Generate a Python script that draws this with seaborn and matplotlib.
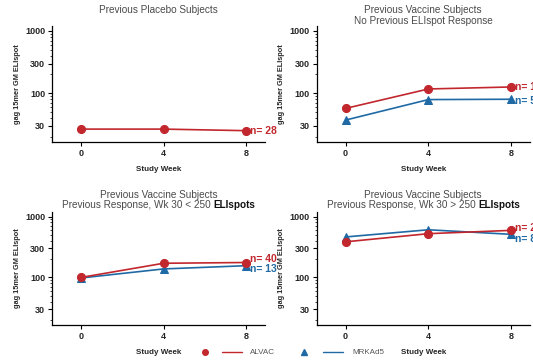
import numpy as np
import pandas as pd
import matplotlib
matplotlib.use("Agg")
import matplotlib.pyplot as plt
import seaborn as sns
from matplotlib.lines import Line2D
from matplotlib.ticker import LogLocator, FixedLocator, NullFormatter

# --- Data ---
weeks = [0, 4, 8]
placebo_alvac = [26.5, 26.5, 25.0]
novacc_alvac = [57, 117, 126]
novacc_mrk = [37, 79, 80]
low_alvac = [100, 171, 176]
low_mrk = [98, 138, 156]
high_alvac = [385, 524, 594]
high_mrk = [463, 607, 511]

# (title line 1, title line 2, bold tail of line 2, series)
panels = [
    ("Previous Placebo Subjects", None, None,
     {"ALVAC": (placebo_alvac, "n= 28")}),
    ("Previous Vaccine Subjects", "No Previous ELIspot Response", None,
     {"ALVAC": (novacc_alvac, "n= 15"), "MRKAd5": (novacc_mrk, "n= 5")}),
    ("Previous Vaccine Subjects", "Previous Response, Wk 30 < 250 ", "ELIspots",
     {"ALVAC": (low_alvac, "n= 40"), "MRKAd5": (low_mrk, "n= 13")}),
    ("Previous Vaccine Subjects", "Previous Response, Wk 30 > 250 ", "ELIspots",
     {"ALVAC": (high_alvac, "n= 21"), "MRKAd5": (high_mrk, "n= 8")}),
]
# vertical nudges (points) so the n= labels don't collide
nudges = [
    {"ALVAC": 0},
    {"ALVAC": 0, "MRKAd5": -1.5},
    {"ALVAC": 2.2, "MRKAd5": -2.2},
    {"ALVAC": 2.0, "MRKAd5": -3.5},
]

colors = {"ALVAC": "#C1272D", "MRKAd5": "#1F6AA5"}
markers = {"ALVAC": "o", "MRKAd5": "^"}
title_color = "#4a4a4a"
W, H = 533, 362

sns.set_style("white")
plt.rcParams["font.family"] = ["Liberation Sans", "DejaVu Sans"]

fig = plt.figure(figsize=(5.33, 3.62), dpi=100)

# axes boxes in figure fractions [left, bottom, width, height]
boxes = [
    [0.0976, 0.608, 0.399, 0.320],
    [0.594, 0.608, 0.400, 0.320],
    [0.0976, 0.102, 0.399, 0.313],
    [0.594, 0.102, 0.400, 0.313],
]
# title line centres in pixels from top
title_y = [(10, None), (10, 20.5), (195, 205.5), (195, 205.5)]


def centred_title(xc, ypix, normal, bold=None):
    y = 1 - ypix / H
    t = fig.text(xc, y, normal, fontsize=7.2, color=title_color,
                 ha="left", va="center")
    parts = [t]
    if bold:
        b = fig.text(0, y, bold, fontsize=7.2, fontweight="bold",
                     color="#111111", ha="left", va="center")
        parts.append(b)
    fig.canvas.draw()
    r = fig.canvas.get_renderer()
    widths = [p.get_window_extent(r).width / W for p in parts]
    x0 = xc - sum(widths) / 2
    for p, w in zip(parts, widths):
        p.set_x(x0)
        x0 += w


for (t1, t2, tb, series), box, (y1, y2), nud in zip(panels, boxes, title_y, nudges):
    ax = fig.add_axes(box)
    rows = []
    for grp, (vals, _) in series.items():
        for w, v in zip(weeks, vals):
            rows.append({"week": w, "value": v, "group": grp})
    df = pd.DataFrame(rows)
    # MRKAd5 drawn first so ALVAC sits on top where they overlap
    order = [g for g in ["MRKAd5", "ALVAC"] if g in series]
    for grp in order:
        sub_df = df[df["group"] == grp]
        sns.lineplot(data=sub_df, x="week", y="value", color=colors[grp],
                     marker=markers[grp], markersize=5.8,
                     markeredgecolor=colors[grp], linewidth=1.2, ax=ax, legend=False)
        vals, lab = series[grp]
        ax.annotate(lab, xy=(weeks[-1], vals[-1]), xytext=(3, nud[grp]),
                    textcoords="offset points", color=colors[grp],
                    fontsize=7.5, fontweight="bold", va="center", ha="left",
                    annotation_clip=False)

    ax.set_yscale("log")
    ax.set_ylim(16.5, 1200)
    ax.set_xlim(-1.4, 8.9)
    ax.yaxis.set_major_locator(FixedLocator([30, 100, 300, 1000]))
    ax.set_yticklabels(["30", "100", "300", "1000"])
    ax.yaxis.set_minor_locator(LogLocator(base=10, subs=np.arange(2, 10)))
    ax.yaxis.set_minor_formatter(NullFormatter())
    ax.set_xticks(weeks)
    ax.set_xticklabels([str(w) for w in weeks])
    ax.tick_params(axis="both", which="major", labelsize=6.5, length=3,
                   width=0.8, color="black", pad=2, left=True, bottom=True)
    ax.tick_params(axis="y", which="minor", length=1.8, width=0.6, left=True)
    for lbl in ax.get_xticklabels() + ax.get_yticklabels():
        lbl.set_fontweight("bold")
    ax.set_xlabel("Study Week", fontsize=5.8, fontweight="bold", labelpad=6)
    ax.set_ylabel("gag 15mer GM ELIspot", fontsize=5.3, fontweight="bold", labelpad=3)
    sns.despine(ax=ax)
    for side in ["left", "bottom"]:
        ax.spines[side].set_linewidth(0.9)
        ax.spines[side].set_color("black")

    xc = box[0] + box[2] / 2
    centred_title(xc, y1, t1)
    if t2:
        centred_title(xc, y2, t2, tb)

# --- Legend along the bottom ---
ly = 1 - 352 / H
fig.add_artist(Line2D([205 / W], [ly], marker="o", color=colors["ALVAC"],
                      markersize=4, linestyle="none", transform=fig.transFigure))
fig.add_artist(Line2D([222 / W, 242 / W], [ly, ly], color=colors["ALVAC"],
                      linewidth=1, transform=fig.transFigure))
fig.text(250 / W, ly, "ALVAC", fontsize=5.8, color="#555555", va="center")
fig.add_artist(Line2D([304 / W], [ly], marker="^", color=colors["MRKAd5"],
                      markersize=4, linestyle="none", transform=fig.transFigure))
fig.add_artist(Line2D([323 / W, 343 / W], [ly, ly], color=colors["MRKAd5"],
                      linewidth=1, transform=fig.transFigure))
fig.text(352 / W, ly, "MRKAd5", fontsize=5.8, color="#555555", va="center")

fig.savefig("out.png", dpi=100)
